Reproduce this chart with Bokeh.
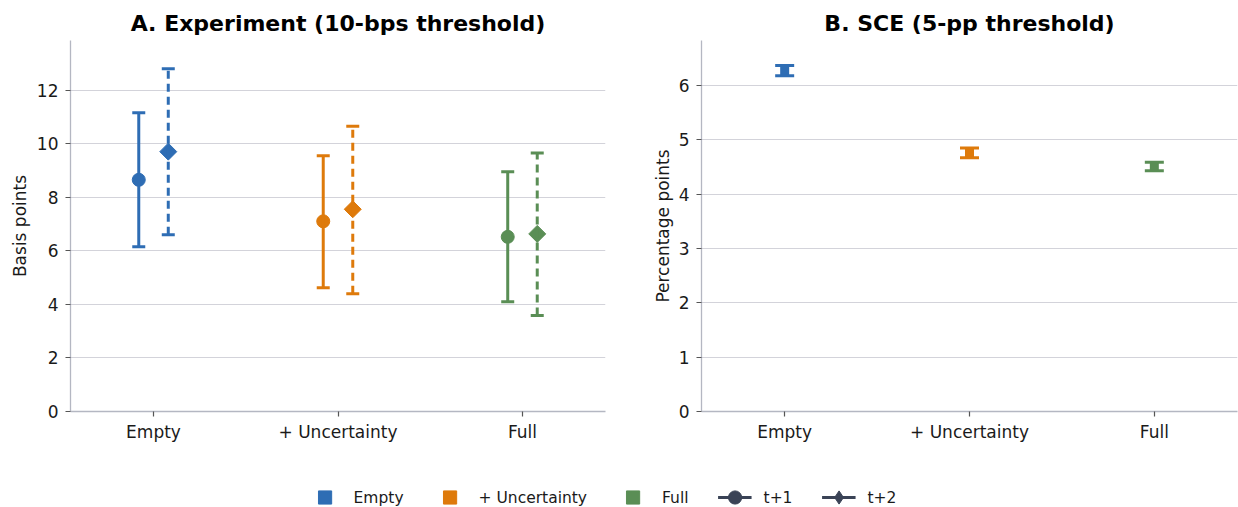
import math
from bokeh.plotting import figure
from bokeh.models import (Whisker, TeeHead, ColumnDataSource, FixedTicker, Legend,
                          LegendItem, Range1d)
from bokeh.layouts import column, row
from bokeh.embed import file_html
from bokeh.resources import INLINE

categories = ["Empty", "+ Uncertainty", "Full"]
colors = ["#2e6db4", "#de7a0b", "#5a8e55"]

# Panel A: experiment (basis points)
exp_t1 = [8.65, 7.10, 6.52]
exp_t1_lo = [6.15, 4.62, 4.10]
exp_t1_hi = [11.15, 9.55, 8.95]
exp_t2 = [9.70, 7.55, 6.63]
exp_t2_lo = [6.60, 4.40, 3.58]
exp_t2_hi = [12.80, 10.65, 9.65]

# Panel B: SCE (percentage points)
sce = [6.27, 4.76, 4.51]
sce_lo = [6.18, 4.67, 4.43]
sce_hi = [6.37, 4.85, 4.59]

left_ticks = [0, 2, 4, 6, 8, 10, 12]
right_ticks = [0, 1, 2, 3, 4, 5, 6]

FONT = "DejaVu Sans"
AXIS_GREY = "#b4b7c2"
TICK_GREY = "#555555"
TEXT = "#1a1a1a"
DODGE = 0.08


def style(p, yticks, ylabel, label_standoff):
    p.title.text_font = FONT
    p.title.text_font_size = "22px"
    p.title.text_font_style = "bold"
    p.title.align = "center"
    p.title.text_color = "#000000"
    p.outline_line_color = None
    p.xgrid.grid_line_color = None
    p.ygrid.grid_line_color = "#d3d3da"
    p.ygrid.grid_line_width = 1.2
    p.xaxis.ticker = FixedTicker(ticks=list(range(len(categories))))
    p.xaxis.major_label_overrides = {i: c for i, c in enumerate(categories)}
    p.yaxis.ticker = FixedTicker(ticks=yticks)
    p.yaxis.axis_label = ylabel
    for ax in (p.xaxis[0], p.yaxis[0]):
        ax.axis_line_color = AXIS_GREY
        ax.axis_line_width = 1.3
        ax.major_tick_line_color = TICK_GREY
        ax.major_tick_line_width = 1.2
        ax.major_tick_out = 5
        ax.major_tick_in = 0
        ax.minor_tick_line_color = None
        ax.major_label_text_font = FONT
        ax.major_label_text_font_size = "17px"
        ax.major_label_text_color = TEXT
        ax.axis_label_text_font = FONT
        ax.axis_label_text_font_size = "17px"
        ax.axis_label_text_font_style = "normal"
        ax.axis_label_text_color = TEXT
    p.yaxis.major_label_standoff = 7
    p.yaxis.axis_label_standoff = label_standoff
    p.xaxis.major_label_standoff = 5


# ---------- Panel A ----------
pA = figure(width=619, height=455, output_backend="svg", toolbar_location=None,
            title="A. Experiment (10-bps threshold)",
            x_range=Range1d(-0.45, 2.45), y_range=Range1d(0, 13.85),
            min_border_left=70, min_border_right=14, min_border_top=40,
            min_border_bottom=44)
style(pA, left_ticks, "Basis points", 4)

for i, c in enumerate(categories):
    src1 = ColumnDataSource(dict(x=[i - DODGE], y=[exp_t1[i]], lo=[exp_t1_lo[i]], hi=[exp_t1_hi[i]]))
    src2 = ColumnDataSource(dict(x=[i + DODGE], y=[exp_t2[i]], lo=[exp_t2_lo[i]], hi=[exp_t2_hi[i]]))
    w1 = Whisker(base="x", upper="hi", lower="lo", source=src1, dimension="height",
                 line_color=colors[i], line_width=3, level="glyph",
                 upper_head=TeeHead(size=13, line_color=colors[i], line_width=3),
                 lower_head=TeeHead(size=13, line_color=colors[i], line_width=3))
    w2 = Whisker(base="x", upper="hi", lower="lo", source=src2, dimension="height",
                 line_color=colors[i], line_width=3, line_dash="8 5", level="glyph",
                 upper_head=TeeHead(size=13, line_color=colors[i], line_width=3),
                 lower_head=TeeHead(size=13, line_color=colors[i], line_width=3))
    pA.add_layout(w1)
    pA.add_layout(w2)
    pA.scatter("x", "y", source=src1, marker="circle", size=13, color=colors[i])
    pA.scatter("x", "y", source=src2, marker="square", size=12, angle=math.pi / 4,
               color=colors[i])

# ---------- Panel B ----------
pB = figure(width=619, height=455, output_backend="svg", toolbar_location=None,
            title="B. SCE (5-pp threshold)",
            x_range=Range1d(-0.45, 2.45), y_range=Range1d(0, 6.83),
            min_border_left=82, min_border_right=1, min_border_top=40,
            min_border_bottom=44)
style(pB, right_ticks, "Percentage points", 3)

for i, c in enumerate(categories):
    src = ColumnDataSource(dict(x=[i], y=[sce[i]], lo=[sce_lo[i]], hi=[sce_hi[i]]))
    w = Whisker(base="x", upper="hi", lower="lo", source=src, dimension="height",
                line_color=colors[i], line_width=9, level="glyph",
                upper_head=TeeHead(size=19, line_color=colors[i], line_width=3),
                lower_head=TeeHead(size=19, line_color=colors[i], line_width=3))
    pB.add_layout(w)

# ---------- Legend strip ----------
pL = figure(width=1238, height=52, output_backend="svg", toolbar_location=None,
            x_range=Range1d(0, 1), y_range=Range1d(0, 1),
            min_border_left=0, min_border_right=34, min_border_top=32,
            min_border_bottom=0)
pL.axis.visible = False
pL.grid.visible = False
pL.outline_line_color = None

nan = float("nan")
items = []
for i, c in enumerate(categories):
    r = pL.scatter(x=[nan], y=[nan], marker="square", color=colors[i])
    items.append(LegendItem(label=c, renderers=[r]))
dark = "#3a4356"
for lab, mk in (("t+1", "circle"), ("t+2", "diamond")):
    rl = pL.line(x=[nan, nan], y=[nan, nan], line_color=dark, line_width=3)
    rs = pL.scatter(x=[nan], y=[nan], marker=mk, color=dark)
    items.append(LegendItem(label=lab, renderers=[rl, rs]))

leg = Legend(items=items, orientation="horizontal", location="center",
             glyph_width=34, glyph_height=33, label_standoff=12, spacing=29,
             label_text_font=FONT, label_text_font_size="15.5px", label_text_color=TEXT,
             border_line_color=None, background_fill_alpha=0, padding=0, margin=0)
pL.add_layout(leg)

layout = column(row(pA, pB), pL)
open("out.html", "w").write(file_html(layout, INLINE))
